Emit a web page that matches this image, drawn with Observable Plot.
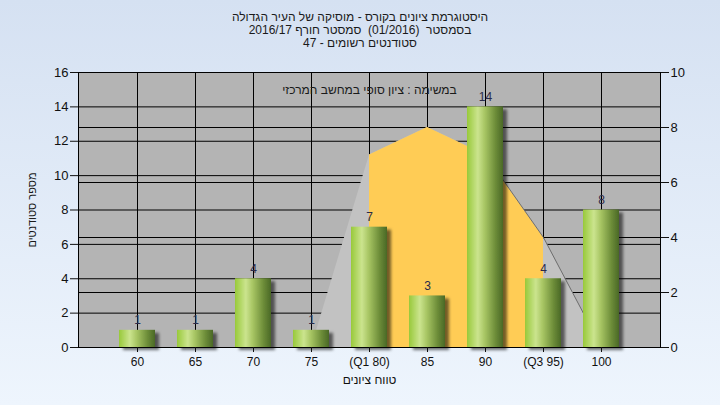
<!DOCTYPE html>
<html><head><meta charset="utf-8">
<script src="https://cdn.jsdelivr.net/npm/d3@7"></script>
<script src="https://cdn.jsdelivr.net/npm/@observablehq/plot@0.6"></script>
<style>
body{margin:0;}
#wrap{position:relative;width:720px;height:405px;background:linear-gradient(#d5e1f2,#eef5fd);font-family:"Liberation Sans",Arial,sans-serif;overflow:hidden}
#title{position:absolute;top:11px;left:0;width:720px;text-align:center;font-size:12px;line-height:13px;color:#1a1a1a;z-index:2;direction:rtl;white-space:pre}
#wrap svg{position:absolute;left:0;top:0}
</style></head><body>
<div id="wrap"><div id="title"></div></div>
<script>
const categories = ["60","65","70","75","(Q1 80)","85","90","(Q3 95)","100"];
const counts = [1,1,4,1,7,3,14,4,8];
const curveCategories = ["75","(Q1 80)","85","90","(Q3 95)","100"];
const curveValues = [0,7,8,7,4,0];
const quartileCategories = ["(Q1 80)","85","90","(Q3 95)"];
const edgeCategories = ["90","(Q3 95)","100"];
const leftTicks = [0,2,4,6,8,10,12,14,16];
const rightTicks = [0,2,4,6,8,10];
const titleLines = [
  "היסטוגרמת ציונים בקורס - מוסיקה של העיר הגדולה",
  "בסמסטר  (01/2016)  סמסטר חורף 2016/17",
  "סטודנטים רשומים - 47"
];
const legendText = "במשימה : ציון סופי במחשב המרכזי";
const yLabel = "מספר סטודנטים";
const xLabel = "טווח ציונים";

const titleEl = document.getElementById("title");
titleLines.forEach(l => { const d = document.createElement("div"); d.textContent = l; titleEl.appendChild(d); });

const k = leftTicks[leftTicks.length-1] / rightTicks[rightTicks.length-1];
const bars = categories.map((c,i)=>({cat:c, n:counts[i]}));
const curve = curveCategories.map((c,i)=>({cat:c, v:curveValues[i]*k}));
const yellow = curve.filter(d=>quartileCategories.includes(d.cat));
const edge = curve.filter(d=>edgeCategories.includes(d.cat));

const chart = Plot.plot({
  width:720, height:405,
  marginTop:72, marginBottom:58, marginLeft:78, marginRight:60,
  style:{background:"transparent", fontFamily:"Liberation Sans, Arial, sans-serif", fontSize:"12px", color:"#111", overflow:"visible"},
  x:{type:"band", domain:categories, paddingInner:0.38, paddingOuter:0.705},
  y:{domain:[0,16]},
  marks:[
    Plot.frame({fill:"#b4b4b4", stroke:null}),
    Plot.ruleY(leftTicks, {stroke:"#000"}),
    Plot.ruleY(rightTicks.map(t=>t*k), {stroke:"#000"}),
    Plot.gridX({stroke:"#000", strokeOpacity:1}),
    Plot.areaY(curve, {x:"cat", y:"v", fill:"#c2c2c2"}),
    Plot.areaY(yellow, {x:"cat", y:"v", fill:"#ffcc55"}),
    Plot.line(edge, {x:"cat", y:"v", stroke:"#6e6e6e", strokeWidth:1}),
    Plot.frame({stroke:"#000", fill:"none"}),
    Plot.barY(bars, {x:"cat", y:"n", fill:"#8fb848"}),
    Plot.text(bars, {x:"cat", y:"n", text:"n", dy:-10, fill:"#2a2a4a", fontSize:12}),
    Plot.ruleY([0], {stroke:"#000"}),
    Plot.axisY(leftTicks, {anchor:"left", tickSize:8, tickPadding:2, fontSize:13, label:null}),
    Plot.axisY(rightTicks.map(t=>t*k), {anchor:"right", tickSize:8, tickPadding:2, fontSize:13, tickFormat:d=>Math.round(d/k), label:null}),
    Plot.axisX({tickSize:5, tickPadding:5, fontSize:12, label:xLabel, labelAnchor:"center", labelOffset:36, labelArrow:"none"}),
    Plot.text([yLabel], {text:d=>d, frameAnchor:"left", textAnchor:"middle", rotate:-90, dx:-46, fill:"#1a1a1a", fontSize:11}),
    Plot.text([legendText], {text:d=>d, frameAnchor:"top", dy:13, fill:"#1a1a1a", fontSize:12})
  ]
});

const svg = d3.select(chart);
const defs = svg.insert("defs", ":first-child");
const g = defs.append("linearGradient").attr("id","barGrad").attr("x1",0).attr("x2",1).attr("y1",0).attr("y2",0);
[[0,"#98c93a"],[0.3,"#cbe48e"],[0.5,"#a6c462"],[0.8,"#6b8b38"],[1,"#4a6826"]].forEach(([o,c])=>g.append("stop").attr("offset",o).attr("stop-color",c));
const f = defs.append("filter").attr("id","barShadow").attr("x","-20%").attr("y","-20%").attr("width","160%").attr("height","160%");
f.append("feDropShadow").attr("dx",4).attr("dy",3).attr("stdDeviation",1.6).attr("flood-color","#000").attr("flood-opacity",0.55);
svg.selectAll('g[aria-label="bar"]').attr("filter","url(#barShadow)");
svg.selectAll('g[aria-label="bar"] rect').attr("fill","url(#barGrad)");
svg.selectAll("text").filter(function(){ return /[\u0590-\u05FF]/.test(this.textContent); }).attr("direction","rtl");

document.getElementById("wrap").appendChild(chart);
</script>
</body></html>
